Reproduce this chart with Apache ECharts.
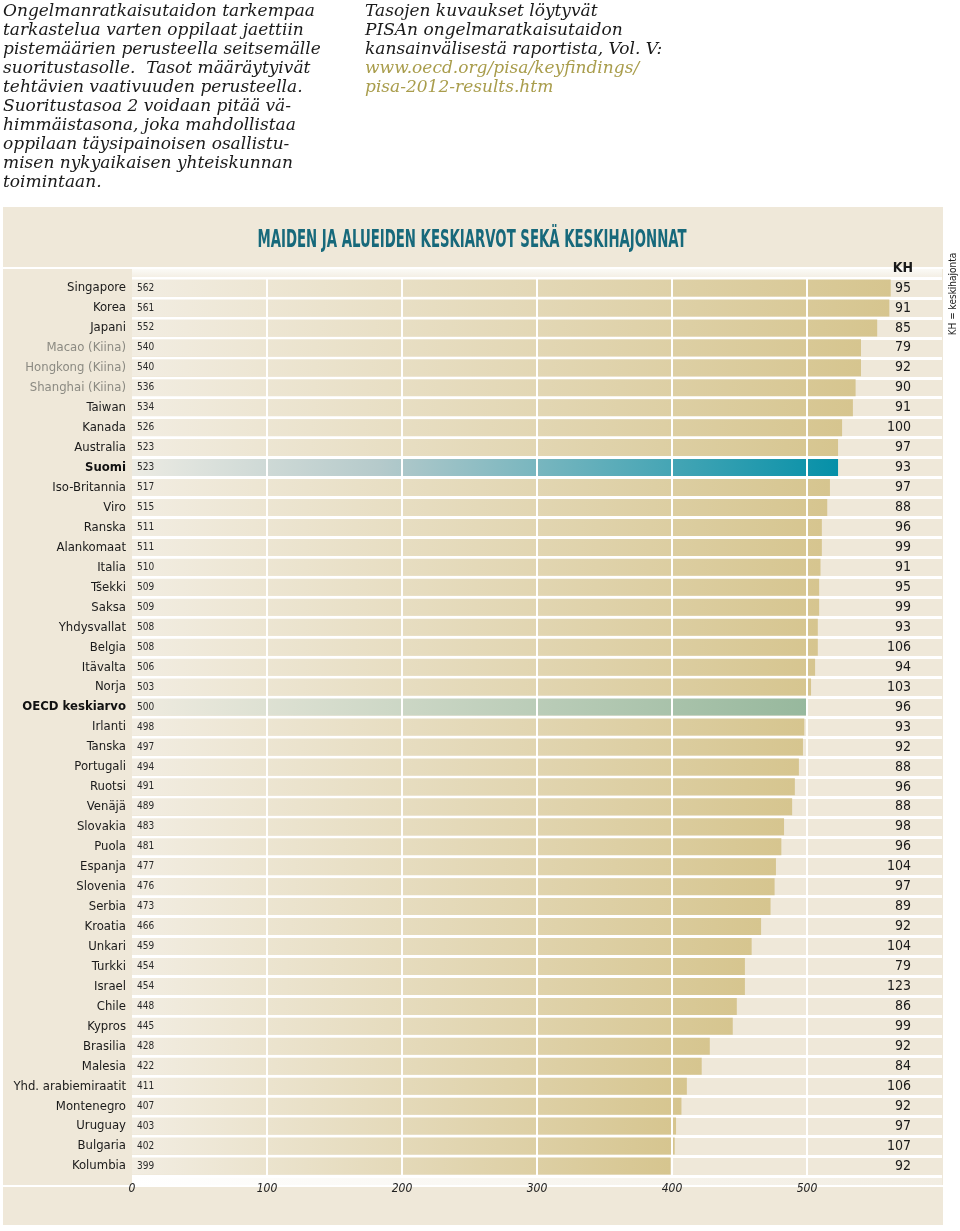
<!DOCTYPE html>
<html><head><meta charset="utf-8">
<script src="https://cdn.jsdelivr.net/npm/echarts@6/dist/echarts.min.js"></script>
<style>html,body{margin:0;padding:0;background:#fff}#c{width:960px;height:1231px}</style>
</head><body><div id="c"></div>
<script>
const countries = ["Singapore","Korea","Japani","Macao (Kiina)","Hongkong (Kiina)","Shanghai (Kiina)","Taiwan","Kanada","Australia","Suomi","Iso-Britannia","Viro","Ranska","Alankomaat","Italia","Tšekki","Saksa","Yhdysvallat","Belgia","Itävalta","Norja","OECD keskiarvo","Irlanti","Tanska","Portugali","Ruotsi","Venäjä","Slovakia","Puola","Espanja","Slovenia","Serbia","Kroatia","Unkari","Turkki","Israel","Chile","Kypros","Brasilia","Malesia","Yhd. arabiemiraatit","Montenegro","Uruguay","Bulgaria","Kolumbia"];
const means = [562,561,552,540,540,536,534,526,523,523,517,515,511,511,510,509,509,508,508,506,503,500,498,497,494,491,489,483,481,477,476,473,466,459,454,454,448,445,428,422,411,407,403,402,399];
const kh = [95,91,85,79,92,90,91,100,97,93,97,88,96,99,91,95,99,93,106,94,103,96,93,92,88,96,88,98,96,104,97,89,92,104,79,123,86,99,92,84,106,92,97,107,92];
const greyLabels = ["Macao (Kiina)","Hongkong (Kiina)","Shanghai (Kiina)"];
const boldLabels = ["Suomi","OECD keskiarvo"];
const xTicks = [0,100,200,300,400,500];
const title = "MAIDEN JA ALUEIDEN KESKIARVOT SEKÄ KESKIHAJONNAT";
const introLines = ["Ongelmanratkaisutaidon tarkempaa","tarkastelua varten oppilaat jaettiin","pistemäärien perusteella seitsemälle","suoritustasolle.  Tasot määräytyivät","tehtävien vaativuuden perusteella.","Suoritustasoa 2 voidaan pitää vä-","himmäistasona, joka mahdollistaa","oppilaan täysipainoisen osallistu-","misen nykyaikaisen yhteiskunnan","toimintaan."];
const refLines = ["Tasojen kuvaukset löytyvät","PISAn ongelmaratkaisutaidon","kansainvälisestä raportista, Vol. V:"];
const linkLines = ["www.oecd.org/pisa/keyfindings/","pisa-2012-results.htm"];

const ctx = document.createElement('canvas').getContext('2d');
function has(f){
  const s='abcdefghijklmnopqrstuvwxyzABCDEF0123456789';
  ctx.font='40px monospace'; const a=ctx.measureText(s).width;
  ctx.font='40px "'+f+'", monospace'; const b=ctx.measureText(s).width;
  ctx.font='40px serif'; const c=ctx.measureText(s).width;
  ctx.font='40px "'+f+'", serif'; const d=ctx.measureText(s).width;
  return a!==b || c!==d;
}
function pick(list){ for(const f of list){ if(has(f)) return f; } return 'sans-serif'; }
const COND = pick(["Liberation Sans Narrow","DejaVu Sans Condensed","Roboto","Liberation Sans"]);
const SERIF = pick(["DejaVu Serif","Liberation Serif","Noto Serif"]);
function mw(text, font){ ctx.font = font; return ctx.measureText(text).width; }

const titleSize = 24;
const titleScale = 429 / mw(title, 'bold '+titleSize+'px "'+COND+'"');
const serifSize = 17;
const serifScale = 312 / mw(introLines[0], 'italic '+serifSize+'px "'+SERIF+'"');

const chart = echarts.init(document.getElementById('c'), null, {renderer:'canvas'});

function grad(c0, c1){
  return new echarts.graphic.LinearGradient(0,0,1,0,[{offset:0,color:c0},{offset:1,color:c1}]);
}
const barData = means.map((v,i)=>{
  const name = countries[i];
  let color = grad('#f2ede2','#d6c58f');
  if (name==='Suomi') color = new echarts.graphic.LinearGradient(0,0,1,0,[{offset:0,color:'#ecebe3'},{offset:0.35,color:'#b5cacb'},{offset:1,color:'#0590a8'}]);
  if (name==='OECD keskiarvo') color = grad('#efebe0','#97b89d');
  return {value:v, itemStyle:{color}};
});

const option = {
  animation:false,
  backgroundColor:'#ffffff',
  graphic:[
    {type:'rect', z:-10, shape:{x:3,y:207,width:940,height:1018}, style:{fill:'#efe8d9'}},
    {type:'rect', z:-9, shape:{x:132,y:269,width:810,height:9}, style:{fill:new echarts.graphic.LinearGradient(0,0,0,1,[{offset:0,color:'#fbfaf6'},{offset:1,color:'#f3eee3'}])}},
    {type:'rect', z:-9, shape:{x:3,y:267,width:940,height:2}, style:{fill:'#ffffff'}},
    {type:'rect', z:-9, shape:{x:132,y:1176,width:810,height:9}, style:{fill:new echarts.graphic.LinearGradient(0,0,1,0,[{offset:0,color:'#ffffff'},{offset:1,color:'#f2ede2'}])}},
    {type:'rect', z:-9, shape:{x:3,y:1185,width:940,height:2}, style:{fill:'#ffffff'}},
    {type:'text', x:3, y:2.5, scaleX:serifScale, style:{text:introLines.join('\n'), font:'italic '+serifSize+'px "'+SERIF+'"', lineHeight:19, fill:'#1a1a1a', textVerticalAlign:'top'}},
    {type:'text', x:365, y:2.5, scaleX:serifScale, style:{text:refLines.join('\n'), font:'italic '+serifSize+'px "'+SERIF+'"', lineHeight:19, fill:'#1a1a1a', textVerticalAlign:'top'}},
    {type:'text', x:365, y:59.5, scaleX:serifScale, style:{text:linkLines.join('\n'), font:'italic '+serifSize+'px "'+SERIF+'"', lineHeight:19, fill:'#a99d4c', textVerticalAlign:'top'}},
    {type:'text', x:472, y:241, scaleX:titleScale, style:{text:title, font:'bold '+titleSize+'px "'+COND+'"', fill:'#17697b', textAlign:'center', textVerticalAlign:'middle'}},
    {type:'text', x:903, y:268, z:10, style:{text:'KH', font:'bold 14px "'+COND+'"', fill:'#1a1a1a', textAlign:'center', textVerticalAlign:'middle'}},
    {type:'text', x:953, y:294, rotation:Math.PI/2, style:{text:'KH = keskihajonta', font:'10px "'+COND+'"', fill:'#222', textAlign:'center', textVerticalAlign:'middle'}}
  ],
  grid:{left:132, right:18, top:278, bottom:55, containLabel:false},
  xAxis:{
    type:'value', min:0, max:600, interval:100, z:3,
    axisLine:{show:false}, axisTick:{show:false},
    axisLabel:{margin:7, fontFamily:COND, fontStyle:'italic', fontSize:12, color:'#222',
      formatter:v=> xTicks.indexOf(v)>=0 ? String(v) : ''},
    splitLine:{show:true, showMinLine:false, showMaxLine:false, lineStyle:{color:'#ffffff', width:2}}
  },
  yAxis:[
    {type:'category', inverse:true, data:countries,
      axisLine:{show:false}, axisTick:{show:false},
      splitLine:{show:true, lineStyle:{color:'#ffffff', width:3}},
      axisLabel:{interval:0, margin:6, fontFamily:COND, fontSize:13, color:'#1a1a1a',
        formatter:v=> greyLabels.indexOf(v)>=0 ? '{g|'+v+'}' : (boldLabels.indexOf(v)>=0 ? '{b|'+v+'}' : v),
        rich:{g:{fontFamily:COND,fontSize:13,color:'#8b8a82'}, b:{fontFamily:COND,fontSize:13,fontWeight:'bold',color:'#111'}}}
    },
    {type:'category', inverse:true, data:countries, position:'right',
      axisLine:{show:false}, axisTick:{show:false}, splitLine:{show:false},
      axisLabel:{interval:0, inside:true, margin:31, align:'right', fontFamily:COND, fontSize:14, color:'#1a1a1a',
        formatter:(v,i)=> String(kh[i])}
    }
  ],
  series:[{
    type:'bar', yAxisIndex:0, barWidth:17, data:barData,
    label:{show:true, position:'insideLeft', distance:5, fontFamily:COND, fontSize:10, color:'#2a2a2a', formatter:p=>String(p.value)}
  }]
};
chart.setOption(option);
</script></body></html>
